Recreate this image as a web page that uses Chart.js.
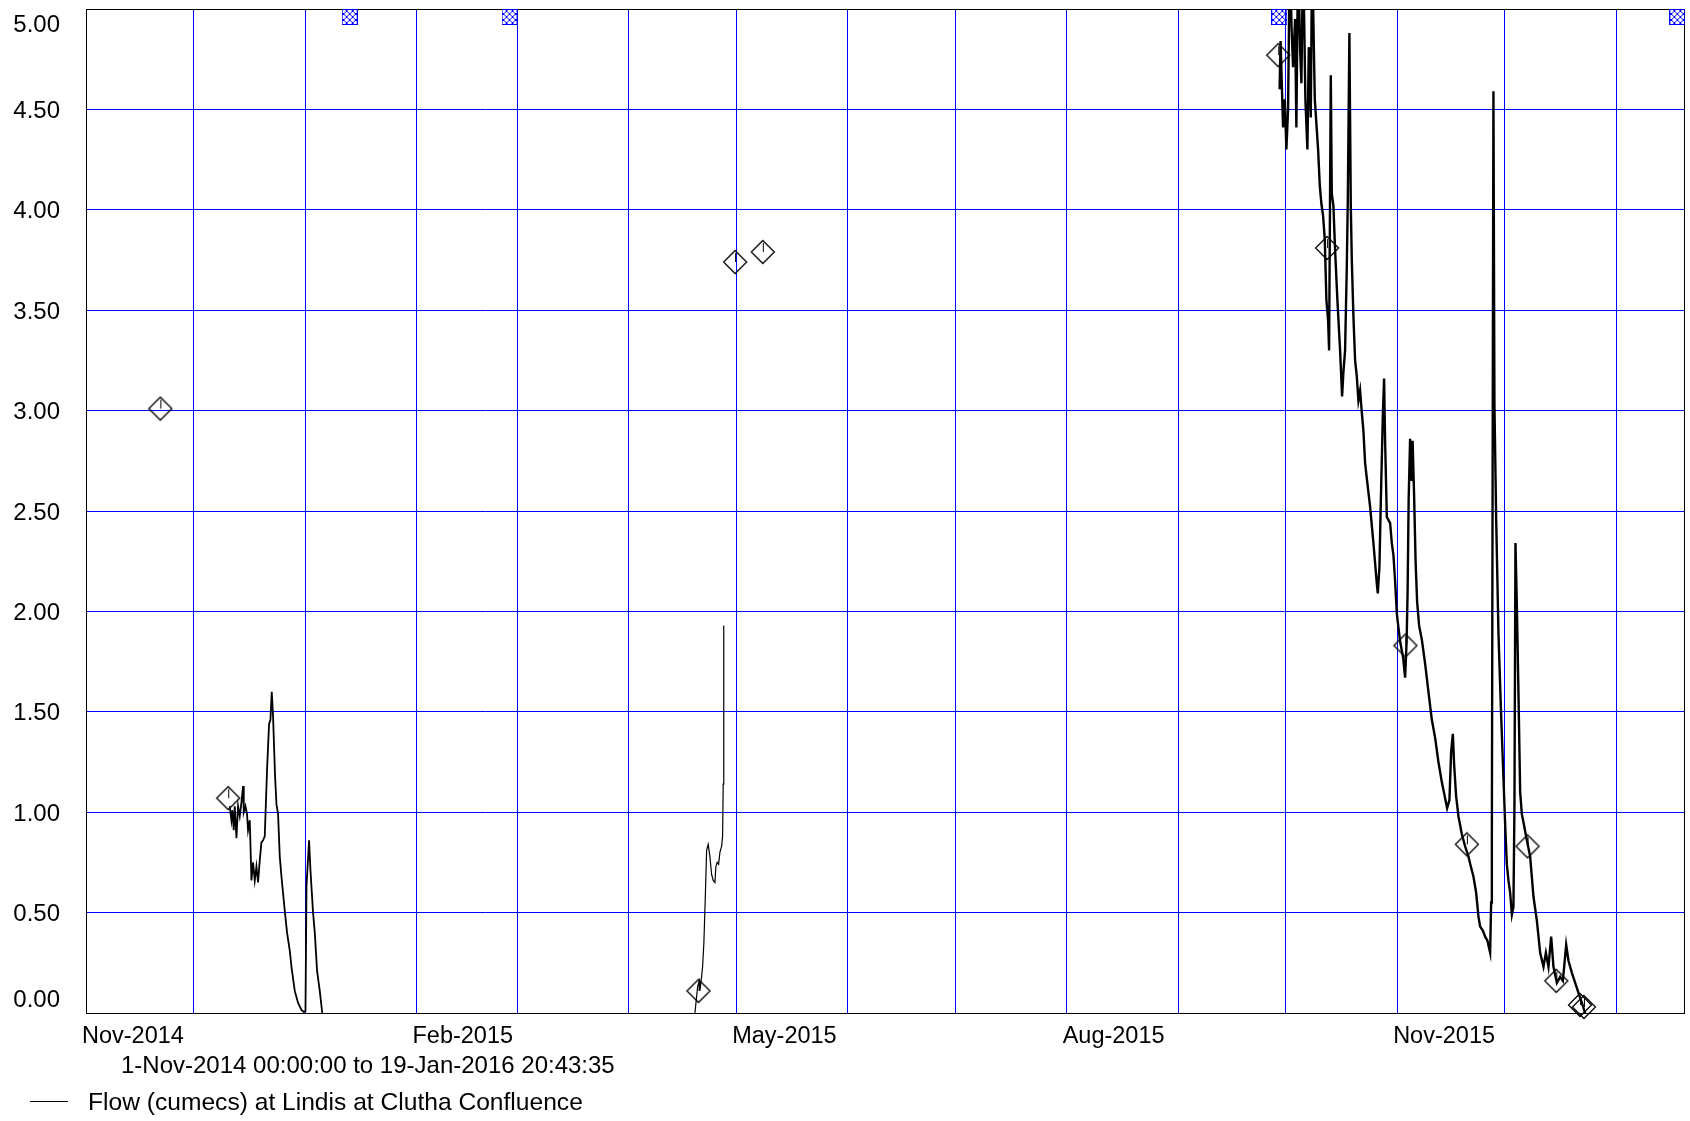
<!DOCTYPE html>
<html>
<head>
<meta charset="utf-8">
<title>Flow at Lindis at Clutha Confluence</title>
<script src="https://cdn.jsdelivr.net/npm/chart.js@4.4.1/dist/chart.umd.min.js"></script>
<style>
    html, body { margin: 0; padding: 0; background: #fff; }
    #wrap { width: 1690px; height: 1121px; }
    canvas { display: block; }
</style>
</head>
<body>
<div id="wrap"><canvas id="flow-chart" width="1690" height="1121"></canvas></div>
<script>
// x values are days since 1-Nov-2014 00:00:00
const periodEnd = 444.86;   // 19-Jan-2016 20:43:35
const monthStarts = [0, 30, 61, 92, 120, 151, 181, 212, 242, 273, 304, 334, 365, 395, 426];
const labelDays = [0, 92, 181, 273, 365];
const labelNames = ['Nov-2014', 'Feb-2015', 'May-2015', 'Aug-2015', 'Nov-2015'];
const yTickValues = [0, 0.5, 1, 1.5, 2, 2.5, 3, 3.5, 4, 4.5, 5];

const subtitle = '1-Nov-2014 00:00:00 to 19-Jan-2016 20:43:35';
const seriesName = 'Flow (cumecs) at Lindis at Clutha Confluence';

// Flow record, three pieces with gaps in between
const segADays = [40.02, 40.49, 40.77, 41.13, 41.41, 41.88, 42.33, 42.80, 43.28, 43.72,
    43.92, 44.39, 44.83, 45.11, 45.59, 46.06, 46.51, 46.98, 47.45, 47.90,
    48.37, 48.84, 49.29, 49.76, 50.40, 50.96, 51.35, 51.71, 52.07, 52.63,
    53.02, 53.47, 53.94, 54.41, 55.33, 55.97, 56.73, 57.20, 58.12, 59.04,
    59.98, 60.62, 61.10, 61.38, 62.10, 62.49, 63.21, 63.69, 64.33, 65.08, 65.83];
const segAFlow = [1.03, 0.96, 1.01, 0.91, 1.03, 0.87, 1.03, 0.98, 1.05, 1.13,
    1.00, 1.03, 0.99, 0.91, 0.96, 0.66, 0.75, 0.66, 0.73, 0.65,
    0.76, 0.85, 0.86, 0.88, 1.21, 1.44, 1.46, 1.60, 1.48, 1.18,
    1.04, 0.99, 0.78, 0.68, 0.51, 0.40, 0.31, 0.23, 0.11, 0.05,
    0.015, 0.005, 0.01, 0.63, 0.86, 0.71, 0.50, 0.40, 0.21, 0.11, -0.01];

const segBDays = [169.51, 169.98, 170.26, 170.70, 170.90, 171.37, 171.65, 172.01, 172.38, 172.77,
    173.21, 173.68, 174.16, 174.60, 175.08, 175.35, 175.72, 176.11, 176.47, 176.94,
    177.22, 177.39, 177.50, 177.58];
const segBFlow = [0, 0.08, 0.13, 0.16, 0.11, 0.18, 0.23, 0.35, 0.56, 0.81,
    0.84, 0.78, 0.69, 0.66, 0.65, 0.73, 0.75, 0.74, 0.80, 0.83,
    0.88, 1.14, 1.64, 1.93];

const segCDays = [332.28, 332.55, 333.25, 333.72, 334.17, 334.64, 335.11, 335.62, 336.03, 336.59,
    336.95, 337.43, 337.98, 338.35, 338.82, 339.46, 340.02, 340.41, 340.96, 341.33,
    342.08, 343.00, 343.47, 343.92, 344.39, 344.86, 345.31, 345.78, 346.06, 346.53,
    346.81, 347.26, 347.73, 348.37, 349.12, 349.68, 350.04, 350.51, 350.99, 351.27,
    351.71, 352.10, 352.38, 352.83, 353.30, 353.77, 354.22, 354.69, 355.17, 355.61,
    356.08, 356.64, 357.48, 358.40, 359.34, 359.62, 360.07, 360.46, 361.01, 361.37,
    361.65, 362.13, 363.05, 363.52, 363.97, 364.44, 364.91, 365.36, 365.83, 366.67,
    367.22, 367.64, 367.92, 368.20, 368.61, 369.03, 369.31, 369.72, 370.14, 370.56,
    371.11, 371.87, 372.79, 373.71, 374.66, 375.58, 376.50, 377.44, 378.36, 378.92,
    379.56, 380.03, 380.51, 380.86, 381.42, 382.07, 383.01, 383.93, 384.85, 385.52,
    386.24, 386.99, 387.64, 388.11, 388.86, 389.50, 390.14, 390.89, 391.17, 391.37,
    391.81, 392.09, 392.57, 393.21, 393.88, 394.60, 395.07, 395.54, 395.99, 396.46,
    396.94, 397.38, 397.66, 397.94, 398.33, 398.77, 399.25, 399.72, 400.17, 401.11,
    402.03, 402.95, 403.90, 404.82, 405.74, 406.41, 407.13, 407.88, 408.52, 409.47,
    410.39, 411.14, 412.06, 412.70, 413.65, 414.57, 415.48, 416.43, 417.07, 417.82];
const segCFlow = [4.60, 4.84, 4.41, 4.55, 4.30, 4.50, 5.30, 4.90, 4.71, 4.95,
    4.41, 5.30, 4.80, 4.63, 5.30, 4.55, 4.30, 4.81, 4.46, 5.30,
    4.55, 4.30, 4.12, 4.03, 3.97, 3.85, 3.55, 3.45, 3.30, 4.67,
    4.08, 4.02, 3.80, 3.55, 3.30, 3.07, 3.19, 3.30, 3.72, 4.05,
    4.88, 4.02, 3.75, 3.47, 3.25, 3.17, 3.05, 3.10, 2.99, 2.90,
    2.74, 2.65, 2.52, 2.34, 2.14, 2.09, 2.22, 2.55, 2.97, 3.16,
    2.85, 2.47, 2.44, 2.34, 2.28, 2.15, 1.99, 1.92, 1.85, 1.77,
    1.67, 1.85, 2.10, 2.55, 2.86, 2.65, 2.85, 2.58, 2.25, 2.05,
    1.93, 1.86, 1.74, 1.60, 1.46, 1.37, 1.25, 1.15, 1.07, 1.02,
    1.06, 1.30, 1.39, 1.24, 1.08, 0.98, 0.89, 0.83, 0.78, 0.73,
    0.68, 0.60, 0.48, 0.43, 0.41, 0.38, 0.36, 0.30, 0.55, 0.89,
    4.59, 3.03, 2.46, 1.89, 1.52, 1.17, 0.94, 0.74, 0.66, 0.60,
    0.49, 0.53, 1.03, 2.34, 2.03, 1.60, 1.10, 0.99, 0.95, 0.86,
    0.78, 0.58, 0.46, 0.30, 0.23, 0.30, 0.23, 0.38, 0.23, 0.15,
    0.18, 0.16, 0.34, 0.26, 0.20, 0.15, 0.10, 0.05, 0.015, -0.03];

// Gaugings (diamonds)
const gaugeDays = [20.7, 39.6, 170.5, 180.7, 188.4, 331.9, 345.5, 367.3, 384.4, 401.3, 409.3, 415.9, 417.0];
const gaugeFlow = [3.01, 1.07, 0.11, 3.74, 3.79, 4.77, 3.81, 1.83, 0.84, 0.83, 0.16, 0.04, 0.03];

// Off-scale markers along the top
const offScaleDays = [73.4, 117.9, 332.2, 443.0];
const offScaleFlow = [5, 5, 5, 5];

const FONT = '"Liberation Sans", Arial, sans-serif';

function toPoints(days, values) {
    return days.map((d, i) => ({ x: d, y: values[i] }));
}

// Diamond with a small vertical tick inside
function makeGaugeMarker() {
    const c = document.createElement('canvas');
    c.width = 26; c.height = 26;
    const g = c.getContext('2d');
    g.strokeStyle = '#000';
    g.lineWidth = 1.3;
    g.beginPath();
    g.moveTo(13, 1.5);
    g.lineTo(24.5, 13);
    g.lineTo(13, 24.5);
    g.lineTo(1.5, 13);
    g.closePath();
    g.stroke();
    g.lineWidth = 1;
    g.beginPath();
    g.moveTo(13.5, 4);
    g.lineTo(13.5, 13);
    g.stroke();
    return c;
}

// Blue cross-hatched square, hanging below its point
function makeOffScaleMarker() {
    const c = document.createElement('canvas');
    c.width = 16; c.height = 34;
    const g = c.getContext('2d');
    g.strokeStyle = '#0000ff';
    g.lineWidth = 1;
    g.strokeRect(0.5, 17.5, 15, 15);
    g.save();
    g.beginPath();
    g.rect(0, 17, 16, 16);
    g.clip();
    g.beginPath();
    for (let k = -15; k <= 15; k += 6) {
        g.moveTo(k, 17); g.lineTo(k + 16, 33);
        g.moveTo(k, 33); g.lineTo(k + 16, 17);
    }
    g.stroke();
    g.restore();
    return c;
}

// Frame and all the text
const framePlugin = {
    id: 'frame',
    beforeDatasetsDraw(chart) {
        const { ctx, chartArea: a } = chart;
        ctx.save();
        ctx.strokeStyle = '#000';
        ctx.lineWidth = 1;
        ctx.strokeRect(Math.round(a.left) + 0.5, Math.round(a.top) + 0.5,
            Math.round(a.right - a.left), Math.round(a.bottom - a.top));
        ctx.restore();
    },
    afterDraw(chart) {
        const { ctx, chartArea: a } = chart;
        const xs = chart.scales.x;
        const ys = chart.scales.y;
        ctx.save();
        ctx.fillStyle = '#000';
        ctx.textBaseline = 'alphabetic';

        // y tick labels, end ones kept inside the plot height
        ctx.font = '24px ' + FONT;
        ctx.textAlign = 'right';
        yTickValues.forEach(v => {
            let cy = ys.getPixelForValue(v);
            cy = Math.min(Math.max(cy, a.top + 14), a.bottom - 15);
            ctx.fillText(v.toFixed(2), a.left - 26, cy + 8.6);
        });

        // x tick labels
        ctx.font = '23.5px ' + FONT;
        ctx.textAlign = 'left';
        labelDays.forEach((d, i) => {
            ctx.fillText(labelNames[i], xs.getPixelForValue(d) - 4, a.bottom + 30);
        });

        // period
        ctx.font = '24px ' + FONT;
        ctx.fillText(subtitle, 121, a.bottom + 60);

        // legend
        ctx.beginPath();
        ctx.strokeStyle = '#000';
        ctx.lineWidth = 1;
        ctx.moveTo(30, 1101.5);
        ctx.lineTo(68, 1101.5);
        ctx.stroke();
        ctx.font = '24.6px ' + FONT;
        ctx.fillText(seriesName, 88, a.bottom + 96.5);
        ctx.restore();
    }
};

document.addEventListener('DOMContentLoaded', function() {
    const ctx = document.getElementById('flow-chart').getContext('2d');
    const gaugeMarker = makeGaugeMarker();
    const offScaleMarker = makeOffScaleMarker();

    const lineStyle = {
        showLine: true,
        borderColor: '#000',
        borderWidth: 1.6,
        pointRadius: 0,
        tension: 0
    };

    new Chart(ctx, {
        type: 'scatter',
        data: {
            datasets: [
                {
                    label: 'Off scale',
                    data: toPoints(offScaleDays, offScaleFlow),
                    pointStyle: offScaleMarker,
                    pointRadius: 8,
                    clip: false
                },
                {
                    label: 'Gaugings',
                    data: toPoints(gaugeDays, gaugeFlow),
                    pointStyle: gaugeMarker,
                    pointRadius: 12,
                    clip: false
                },
                Object.assign({ label: seriesName, data: toPoints(segADays, segAFlow) }, lineStyle, { borderWidth: 1.8 }),
                Object.assign({ label: seriesName, data: toPoints(segBDays, segBFlow) }, lineStyle, { borderWidth: 1.2 }),
                Object.assign({ label: seriesName, data: toPoints(segCDays, segCFlow) }, lineStyle, { borderWidth: 2.4 })
            ]
        },
        options: {
            responsive: false,
            animation: false,
            events: [],
            devicePixelRatio: 1,
            layout: {
                autoPadding: false,
                padding: { left: 86, top: 9, right: 6, bottom: 108 }
            },
            plugins: {
                legend: { display: false },
                tooltip: { enabled: false },
                title: { display: false }
            },
            scales: {
                x: {
                    type: 'linear',
                    min: 0,
                    max: periodEnd,
                    afterBuildTicks: function(axis) {
                        axis.ticks = monthStarts.map(v => ({ value: v }));
                    },
                    ticks: { display: false },
                    grid: { color: '#0000ff', lineWidth: 1, drawTicks: false },
                    border: { display: false }
                },
                y: {
                    type: 'linear',
                    min: 0,
                    max: 5,
                    ticks: { display: false, stepSize: 0.5 },
                    grid: { color: '#0000ff', lineWidth: 1, drawTicks: false },
                    border: { display: false }
                }
            }
        },
        plugins: [framePlugin]
    });
});
</script>
</body>
</html>
